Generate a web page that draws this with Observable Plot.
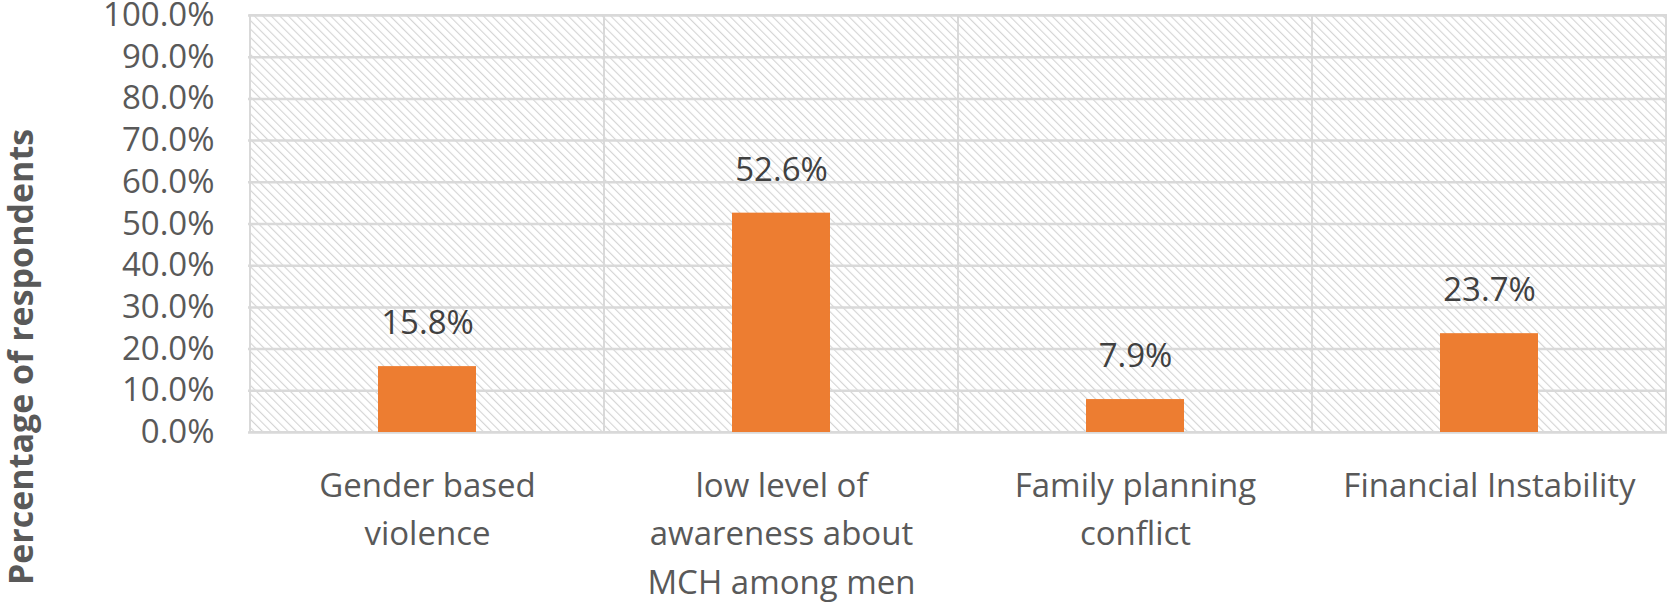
<!DOCTYPE html>
<html>
<head>
<meta charset="utf-8">
<script src="https://cdn.jsdelivr.net/npm/d3@7"></script>
<script src="https://cdn.jsdelivr.net/npm/@observablehq/plot@0.6"></script>
<style>
  html, body { margin: 0; padding: 0; background: #fff; }
  #chart { width: 1670px; height: 603px; }
</style>
</head>
<body>
<div id="chart"></div>
<script>
const categories = [
  "Gender based\nviolence",
  "low level of\nawareness about\nMCH among men",
  "Family planning\nconflict",
  "Financial Instability"
];
const values = [0.158, 0.526, 0.079, 0.237];
const yTicks = [0, 0.1, 0.2, 0.3, 0.4, 0.5, 0.6, 0.7, 0.8, 0.9, 1.0];
const yTitle = "Percentage of respondents";

const data = categories.map((c, i) => ({category: c, value: values[i]}));

const font = "'Open Sans', sans-serif";

const chart = Plot.plot({
  width: 1670,
  height: 603,
  marginLeft: 248,
  marginRight: 3,
  marginTop: 15,
  marginBottom: 171,
  style: {fontFamily: font, background: "#fff", overflow: "visible"},
  x: {domain: categories, padding: 0, label: null},
  y: {domain: [0, 1], label: null},
  marks: [
    // hatched cells with borders
    Plot.barY(categories, {x: d => d, y1: 0, y2: 1, fill: "url(#hatch)", stroke: "#d9d9d9", strokeWidth: 2}),
    Plot.ruleY(yTicks, {stroke: "#d9d9d9", strokeWidth: 2.5}),
    Plot.barY(data, {x: "category", y: "value", fill: "#ED7D31", insetLeft: 128, insetRight: 128}),
    Plot.text(data, {
      x: "category", y: "value",
      text: d => d3.format(".1%")(d.value),
      dy: -43, lineAnchor: "middle",
      fontSize: 33, fill: "#404040", fontFamily: font, letterSpacing: 1.2
    }),
    Plot.axisY({
      ticks: yTicks, tickFormat: d3.format(".1%"), tickSize: 0, tickPadding: 34,
      fontSize: 33, fill: "#595959", label: null, fontFamily: font, letterSpacing: 1.8
    }),
    Plot.axisX({
      tickSize: 0, tickPadding: 30, fontSize: 33, fill: "#595959", label: null,
      lineAnchor: "top", lineHeight: 1.47, fontFamily: font, letterSpacing: 1.4
    }),
    Plot.text([yTitle], {
      text: d => d, frameAnchor: "left", textAnchor: "middle", rotate: -90,
      dx: -226, dy: 133, fontSize: 34, fontWeight: "bold", fill: "#595959", fontFamily: font
    })
  ]
});

// add hatch pattern
const ns = "http://www.w3.org/2000/svg";
const defs = document.createElementNS(ns, "defs");
defs.innerHTML = `<pattern id="hatch" patternUnits="userSpaceOnUse" width="6" height="6" patternTransform="rotate(-45)">
  <rect width="6" height="6" fill="#ffffff"/>
  <line x1="0" y1="0" x2="0" y2="6" stroke="#d4d4d4" stroke-width="2.2"/>
</pattern>`;
chart.insertBefore(defs, chart.firstChild);

document.getElementById("chart").appendChild(chart);
</script>
</body>
</html>
